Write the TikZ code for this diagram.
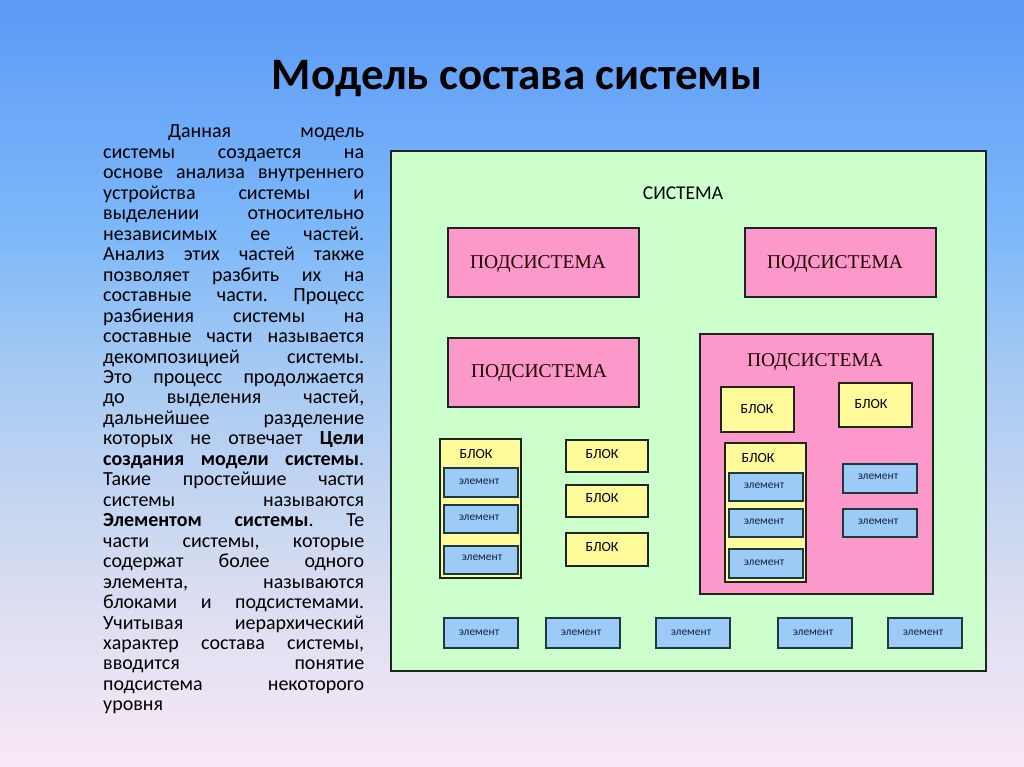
\documentclass[tikz,border=0pt]{standalone}
\usepackage{fontspec}
\setmainfont{Carlito}
\newfontfamily\serifru{Liberation Serif}
\frenchspacing
\definecolor{bgtop}{HTML}{5B9AF7}
\definecolor{bgup}{HTML}{7DB8F9}
\definecolor{bgmid}{HTML}{A9CBF2}
\definecolor{bglow}{HTML}{D6DCF1}
\definecolor{bgbot}{HTML}{FAE8F6}
\definecolor{sysc}{HTML}{CCFFCC}
\definecolor{pinkc}{HTML}{FC99CA}
\definecolor{yelc}{HTML}{FFFA9A}
\definecolor{bluec}{HTML}{9CCBF8}
\definecolor{bordc}{HTML}{1E2422}
\definecolor{elbord}{HTML}{1D3A40}
\definecolor{elt}{HTML}{1A2240}
\pgfdeclareverticalshading{bgsh}{100bp}{color(0bp)=(bgbot); color(25bp)=(bgbot); color(37.5bp)=(bglow); color(50bp)=(bgmid); color(60bp)=(bgup); color(75bp)=(bgtop); color(100bp)=(bgtop)}
\tikzset{
  rbox/.style={draw=bordc, line width=1.5pt, inner sep=0pt, outer sep=0pt, anchor=north west},
  sysbox/.style={rbox, fill=sysc},
  subbox/.style={rbox, fill=pinkc},
  blkbox/.style={rbox, fill=yelc},
  elbox/.style={rbox, draw=elbord, fill=bluec, minimum width=74pt, minimum height=29pt},
  sublabel/.style={font=\serifru\fontsize{19.5}{20}\selectfont, text=black!88!red, inner sep=0pt},
  blklabel/.style={font=\fontsize{14}{15}\selectfont, inner sep=0pt},
  ellabel/.style={font=\fontsize{11.5}{12}\selectfont, text=elt, inner sep=0pt},
  ltext/.style={font=\fontsize{20}{20.46}\selectfont, inner sep=0pt, anchor=base west}
}
\begin{document}
\begin{tikzpicture}[x=1pt,y=-1pt]
\useasboundingbox (0,0) rectangle (1024,767);
\shade[shading=bgsh] (0,0) rectangle (1024,767);

% title
\node[font=\bfseries\fontsize{45}{50}\selectfont, inner sep=0pt] (title) at (517,79) {Модель состава системы};

% left text
\node[ltext] (l1) at (103,138) {\hspace*{65pt}\makebox[196pt][s]{Данная модель}};
\foreach \t [count=\i from 2] in {
 {системы создается на},
 {основе анализа внутреннего},
 {устройства системы и},
 {выделении относительно},
 {независимых ее частей.},
 {Анализ этих частей также},
 {позволяет разбить их на},
 {составные части. Процесс},
 {разбиения системы на},
 {составные части называется},
 {декомпозицией системы.},
 {Это процесс продолжается},
 {до выделения частей,},
 {дальнейшее разделение},
 {которых не отвечает \textbf{Цели}},
 {\textbf{создания модели системы}.},
 {Такие простейшие части},
 {системы называются},
 {\textbf{Элементом системы}. Те},
 {части системы, которые},
 {содержат более одного},
 {элемента, называются},
 {блоками и подсистемами.},
 {Учитывая иерархический},
 {характер состава системы,},
 {вводится понятие},
 {подсистема некоторого}}
 \node[ltext] (l\i) at (103,{138+20.46*(\i-1)}) {\makebox[261pt][s]{\t}};
\node[ltext] (l29) at (103,{138+20.46*28}) {уровня};

% system
\node[sysbox, minimum width=595pt, minimum height=520pt] (sys) at (391,151) {};
\node[font=\fontsize{19.5}{20}\selectfont, inner sep=0pt] (syslab) at (683,193) {СИСТЕМА};

% subsystems
\node[subbox, minimum width=191pt, minimum height=69pt] (p1) at (448,228) {};
\node[sublabel] (p1l) at (538,264.5) {ПОДСИСТЕМА};
\node[subbox, minimum width=191pt, minimum height=69pt] (p2) at (745,228) {};
\node[sublabel] (p2l) at (835,264.5) {ПОДСИСТЕМА};
\node[subbox, minimum width=191pt, minimum height=69pt] (p3) at (448,338) {};
\node[sublabel] (p3l) at (539,373.5) {ПОДСИСТЕМА};
\node[subbox, minimum width=233pt, minimum height=260pt] (p4) at (700,334) {};
\node[sublabel] (p4l) at (815,362.5) {ПОДСИСТЕМА};

% blocks inside big subsystem
\node[blkbox, minimum width=73pt, minimum height=45pt] (b5) at (721,387) {};
\node[blklabel] (b5l) at (757,409) {БЛОК};
\node[blkbox, minimum width=73pt, minimum height=44pt] (b6) at (839,383) {};
\node[blklabel] (b6l) at (871,404) {БЛОК};
\node[blkbox, minimum width=81pt, minimum height=139pt] (b7) at (725,443) {};
\node[blklabel] (b7l) at (758,458) {БЛОК};
\node[elbox, minimum height=28pt] (e71) at (729,473) {};
\node[ellabel] (e71l) at (764,486) {элемент};
\node[elbox, minimum height=28pt] (e72) at (729,509) {};
\node[ellabel] (e72l) at (764,522) {элемент};
\node[elbox] (e73) at (729,549) {};
\node[ellabel] (e73l) at (764,563) {элемент};
\node[elbox] (er1) at (843,464) {};
\node[ellabel] (er1l) at (878,477) {элемент};
\node[elbox, minimum height=28pt] (er2) at (843,509) {};
\node[ellabel] (er2l) at (878,522) {элемент};

% left blocks
\node[blkbox, minimum width=81pt, minimum height=139pt] (b1) at (440,439) {};
\node[blklabel] (b1l) at (476,454) {БЛОК};
\node[elbox] (e11) at (444,468) {};
\node[ellabel] (e11l) at (479,482) {элемент};
\node[elbox, minimum height=28pt] (e12) at (444,505) {};
\node[ellabel] (e12l) at (479,518) {элемент};
\node[elbox, minimum height=28pt] (e13) at (444,546) {};
\node[ellabel] (e13l) at (482,558) {элемент};
\node[blkbox, minimum width=82pt, minimum height=32pt] (b2) at (566,440) {};
\node[blklabel] (b2l) at (602,454) {БЛОК};
\node[blkbox, minimum width=82pt, minimum height=32pt] (b3) at (566,485) {};
\node[blklabel] (b3l) at (602,498) {БЛОК};
\node[blkbox, minimum width=82pt, minimum height=33pt] (b4) at (566,533) {};
\node[blklabel] (b4l) at (602,547) {БЛОК};

% bottom row
\foreach \x [count=\k] in {444,546,656,778,888} {
  \node[elbox, minimum height=30pt] (eb\k) at (\x,618) {};
  \node[ellabel] (eb\k l) at ({\x+35},632.5) {элемент};
}
\end{tikzpicture}
\end{document}
